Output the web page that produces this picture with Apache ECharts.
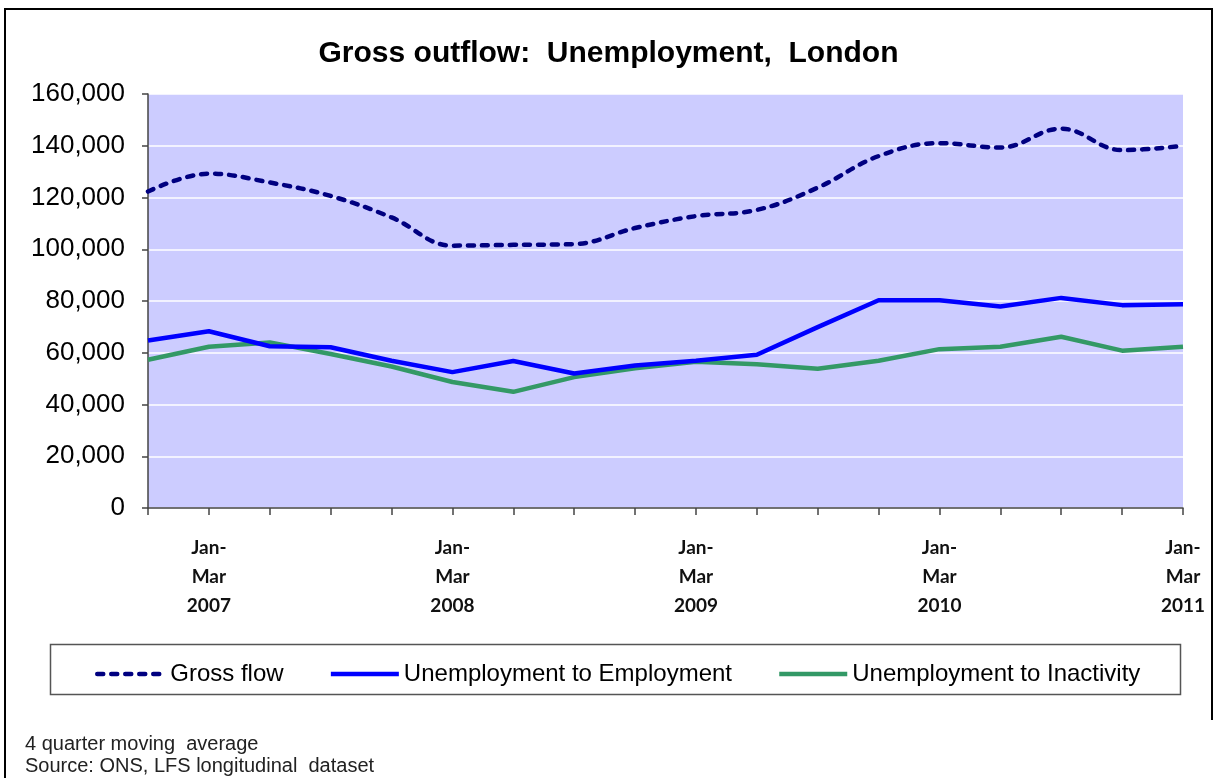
<!DOCTYPE html>
<html>
<head>
<meta charset="utf-8">
<title>Gross outflow: Unemployment, London</title>
<script src="https://cdn.jsdelivr.net/npm/echarts@6/dist/echarts.min.js"></script>
<style>
  html, body { margin: 0; padding: 0; background: #fff; }
  #chart { width: 1217px; height: 778px; }
</style>
</head>
<body>
<div id="chart"></div>
<script>
// Quarterly periods (4 quarter moving average)
const quarters = [
  'Oct-Dec 2006',
  'Jan-Mar 2007', 'Apr-Jun 2007', 'Jul-Sep 2007', 'Oct-Dec 2007',
  'Jan-Mar 2008', 'Apr-Jun 2008', 'Jul-Sep 2008', 'Oct-Dec 2008',
  'Jan-Mar 2009', 'Apr-Jun 2009', 'Jul-Sep 2009', 'Oct-Dec 2009',
  'Jan-Mar 2010', 'Apr-Jun 2010', 'Jul-Sep 2010', 'Oct-Dec 2010',
  'Jan-Mar 2011'
];

const grossFlow = [122300, 129200, 125800, 120600, 112300, 101400, 101700, 102000, 108200,
                   112800, 115200, 123800, 136000, 141000, 139300, 146600, 138300, 140000];
const toEmployment = [64700, 68300, 62500, 62100, 56900, 52500, 56800, 52000, 55100,
                      56900, 59200, 69900, 80300, 80300, 77900, 81200, 78400, 78700];
const toInactivity = [57300, 62300, 64000, 59500, 54700, 48700, 44900, 50600, 54000,
                      56500, 55600, 53800, 56900, 61400, 62300, 66200, 60800, 62300];

const seriesNames = ['Gross flow', 'Unemployment to Employment', 'Unemployment to Inactivity'];
const yTicks = { min: 0, max: 160000, interval: 20000 };

const titleText = 'Gross outflow:  Unemployment,  London';
const notes = ['4 quarter moving  average', 'Source: ONS, LFS longitudinal  dataset'];

const sans = '"Liberation Sans", Arial, sans-serif';
const axisGrey = '#444';

const chart = echarts.init(document.getElementById('chart'), null, { renderer: 'canvas' });

chart.setOption({
  backgroundColor: '#ffffff',
  animation: false,
  title: {
    text: titleText,
    left: 'center',
    top: 34,
    textStyle: { fontFamily: sans, fontSize: 30, fontWeight: 'bold', color: '#000' }
  },
  grid: {
    left: 148, right: 34, top: 94, bottom: 270,
    show: true, backgroundColor: '#CCCCFF', borderWidth: 0,
    containLabel: false
  },
  legend: {
    data: seriesNames,
    left: 90,
    top: 657,
    itemWidth: 68,
    itemHeight: 14,
    itemGap: 45,
    itemStyle: { opacity: 0 },
    lineStyle: { width: 4.5 },
    textStyle: { fontFamily: sans, fontSize: 24, color: '#000' }
  },
  xAxis: {
    type: 'category',
    data: quarters,
    boundaryGap: false,
    axisLine: { lineStyle: { color: axisGrey, width: 1.5 } },
    axisTick: { show: true, interval: 0, length: 7, lineStyle: { color: axisGrey, width: 1.5 } },
    axisLabel: {
      interval: (i, v) => v.startsWith('Jan'),
      margin: 25,
      formatter: v => v.replace('-', '-\n').replace(' ', '\n'),
      fontFamily: 'Lato, "Open Sans", sans-serif',
      fontSize: 19,
      fontWeight: 'bold',
      lineHeight: 29,
      color: '#111'
    },
    splitLine: { show: false }
  },
  yAxis: {
    type: 'value',
    min: yTicks.min,
    max: yTicks.max,
    interval: yTicks.interval,
    axisLine: { show: true, lineStyle: { color: axisGrey, width: 1.5 } },
    axisTick: { show: true, length: 6, lineStyle: { color: axisGrey, width: 1.5 } },
    axisLabel: {
      margin: 23,
      fontFamily: sans,
      fontSize: 26,
      color: '#000',
      formatter: v => v.toLocaleString('en-GB')
    },
    splitLine: { show: true, lineStyle: { color: '#ffffff', width: 1.5 } }
  },
  series: [
    {
      name: seriesNames[0],
      type: 'line',
      data: grossFlow,
      smooth: 0.4,
      symbol: 'none',
      z: 3,
      itemStyle: { color: '#000080' },
      lineStyle: { color: '#000080', width: 4.5, type: [6, 8], cap: 'round' }
    },
    {
      name: seriesNames[1],
      type: 'line',
      data: toEmployment,
      symbol: 'none',
      z: 2,
      itemStyle: { color: '#0000FF' },
      lineStyle: { color: '#0000FF', width: 4.5 }
    },
    {
      name: seriesNames[2],
      type: 'line',
      data: toInactivity,
      symbol: 'none',
      z: 1,
      itemStyle: { color: '#339966' },
      lineStyle: { color: '#339966', width: 4.5 }
    }
  ],
  graphic: [
    // outer frame of the chart area
    {
      type: 'polyline',
      silent: true,
      shape: { points: [[5, 778], [5, 9], [1212, 9], [1212, 720]] },
      style: { stroke: '#000', lineWidth: 2, fill: null }
    },
    // legend box
    {
      type: 'rect',
      silent: true,
      shape: { x: 50.5, y: 644.5, width: 1130, height: 50 },
      style: { stroke: '#555', lineWidth: 1.5, fill: null }
    },
    {
      type: 'text',
      left: 25, top: 734,
      style: { text: notes[0], fontFamily: sans, fontSize: 20, fill: '#222' }
    },
    {
      type: 'text',
      left: 25, top: 756,
      style: { text: notes[1], fontFamily: sans, fontSize: 20, fill: '#222' }
    }
  ]
});
</script>
</body>
</html>
